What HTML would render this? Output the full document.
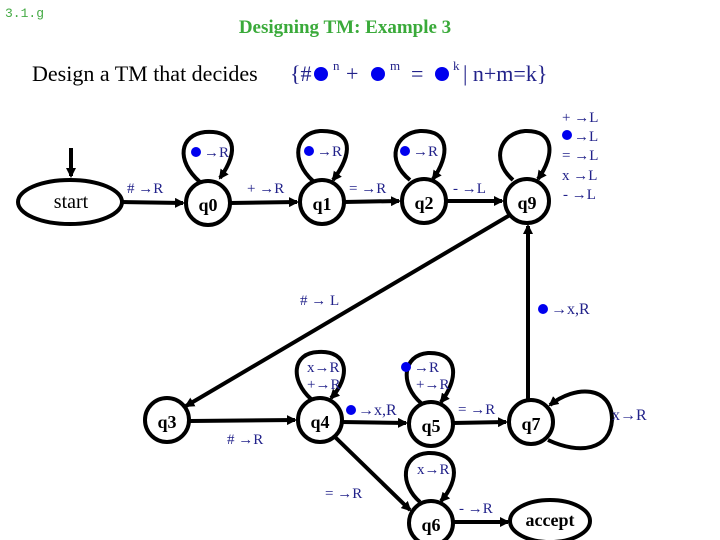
<!DOCTYPE html>
<html><head><meta charset="utf-8"><style>
html,body{margin:0;padding:0;background:#fff}
svg{display:block}
text{font-family:"Liberation Serif",serif}
.lb{fill:#22228a;font-size:15px}
.st{font-weight:bold;font-size:18px;fill:#000}
</style></head><body>
<svg width="720" height="540" viewBox="0 0 720 540" xmlns="http://www.w3.org/2000/svg">
<defs>
<marker id="a" markerWidth="10" markerHeight="10" refX="8" refY="5" orient="auto" markerUnits="userSpaceOnUse">
<path d="M0,0 L10,5 L0,10 z" fill="#000"/></marker>
</defs>
<text x="5" y="17" style="font-family:'Liberation Mono',monospace;font-size:13px;fill:#44aa44">3.1.g</text>
<text x="345" y="33" text-anchor="middle" style="font-size:19px;fill:#3aaa3a;font-weight:bold">Designing TM: Example 3</text>
<text x="32" y="81" style="font-size:22px;fill:#000">Design a TM that decides</text>
<text x="290" y="81" style="font-size:22px;fill:#22228a">{#</text>
<circle cx="321" cy="74" r="7" fill="#0000ee"/>
<text x="333" y="70" style="font-size:13px;fill:#22228a">n</text>
<text x="346" y="81" style="font-size:22px;fill:#22228a">+</text>
<circle cx="378" cy="74" r="7" fill="#0000ee"/>
<text x="390" y="70" style="font-size:13px;fill:#22228a">m</text>
<text x="411" y="81" style="font-size:22px;fill:#22228a">=</text>
<circle cx="442" cy="74" r="7" fill="#0000ee"/>
<text x="453" y="70" style="font-size:13px;fill:#22228a">k</text>
<text x="463" y="81" style="font-size:22px;fill:#22228a">|  n+m=k}</text>

<g stroke="#000" stroke-width="4" fill="none">
<line x1="71" y1="148" x2="71" y2="176" marker-end="url(#a)"/>
<ellipse cx="70" cy="202" rx="52" ry="22" fill="#fff"/>
<circle cx="208" cy="203" r="22"/>
<circle cx="322" cy="202" r="22"/>
<circle cx="424" cy="201" r="22"/>
<circle cx="527" cy="201" r="22"/>
<circle cx="167" cy="420" r="22"/>
<circle cx="320" cy="420" r="22"/>
<circle cx="431" cy="424" r="22"/>
<circle cx="531" cy="422" r="22"/>
<circle cx="431" cy="523" r="22"/>
<ellipse cx="550" cy="521" rx="40" ry="21"/>
<!-- edges -->
<line x1="122" y1="202" x2="183" y2="203" marker-end="url(#a)"/>
<line x1="230" y1="203" x2="297" y2="202" marker-end="url(#a)"/>
<line x1="344" y1="202" x2="399" y2="201" marker-end="url(#a)"/>
<line x1="446" y1="201" x2="502" y2="201" marker-end="url(#a)"/>
<line x1="510" y1="215" x2="186" y2="406" marker-end="url(#a)"/>
<line x1="528" y1="400" x2="528" y2="226" marker-end="url(#a)"/>
<line x1="190" y1="421" x2="295" y2="420" marker-end="url(#a)"/>
<line x1="342" y1="422" x2="406" y2="423" marker-end="url(#a)"/>
<line x1="453" y1="423" x2="506" y2="422" marker-end="url(#a)"/>
<line x1="335" y1="437" x2="410" y2="510" marker-end="url(#a)"/>
<line x1="453" y1="522" x2="508" y2="522" marker-end="url(#a)"/>
<!-- loops -->
<path d="M200,182 C175,160 180,135 205,132 C235,130 240,150 220,178" marker-end="url(#a)"/>
<path d="M313,181 C290,160 295,133 320,131 C355,130 352,155 333,180" marker-end="url(#a)"/>
<path d="M410,180 C385,160 395,133 420,131 C450,130 450,155 433,179" marker-end="url(#a)"/>
<path d="M513,180 C490,160 500,133 525,131 C555,130 555,155 538,179" marker-end="url(#a)"/>
<path d="M311,399 C290,380 292,353 318,352 C350,350 350,378 331,398" marker-end="url(#a)"/>
<path d="M421,403 C400,385 402,355 428,353 C460,352 458,380 441,402" marker-end="url(#a)"/>
<path d="M420,502 C400,485 400,455 428,453 C460,452 460,480 441,501" marker-end="url(#a)"/>
<path d="M548,440 C580,455 610,450 612,420 C612,385 575,385 550,405" marker-end="url(#a)"/>
</g>
<text x="71" y="208" text-anchor="middle" style="font-size:20px">start</text>
<text x="208" y="211" text-anchor="middle" class="st">q0</text>
<text x="322" y="210" text-anchor="middle" class="st">q1</text>
<text x="424" y="209" text-anchor="middle" class="st">q2</text>
<text x="527" y="209" text-anchor="middle" class="st">q9</text>
<text x="167" y="428" text-anchor="middle" class="st">q3</text>
<text x="320" y="428" text-anchor="middle" class="st">q4</text>
<text x="431" y="432" text-anchor="middle" class="st">q5</text>
<text x="531" y="430" text-anchor="middle" class="st">q7</text>
<text x="431" y="531" text-anchor="middle" class="st">q6</text>
<text x="550" y="526" text-anchor="middle" class="st">accept</text>

<g fill="#0000ee">
<circle cx="196" cy="152" r="5"/><circle cx="309" cy="151" r="5"/><circle cx="405" cy="151" r="5"/>
<circle cx="567" cy="135" r="5"/><circle cx="543" cy="309" r="5"/><circle cx="351" cy="410" r="5"/><circle cx="406" cy="367" r="5"/>
</g>
<text x="204" y="157" class="lb">→R</text>
<text x="317" y="156" class="lb">→R</text>
<text x="413" y="156" class="lb">→R</text>
<text x="127" y="193" class="lb"># →R</text>
<text x="247" y="193" class="lb">+ →R</text>
<text x="349" y="193" class="lb">= →R</text>
<text x="453" y="193" class="lb">- →L</text>
<text x="562" y="122" class="lb">+ →L</text>
<text x="574" y="141" class="lb">→L</text>
<text x="562" y="160" class="lb">= →L</text>
<text x="562" y="180" class="lb">x →L</text>
<text x="563" y="199" class="lb">- →L</text>
<text x="300" y="305" class="lb"># → L</text>
<text x="551" y="314" class="lb" style="font-size:16px">→x,R</text>
<text x="307" y="372" class="lb">x→R</text>
<text x="307" y="389" class="lb">+→R</text>
<text x="414" y="372" class="lb">→R</text>
<text x="416" y="389" class="lb">+→R</text>
<text x="358" y="415" class="lb" style="font-size:16px">→x,R</text>
<text x="227" y="444" class="lb"># →R</text>
<text x="458" y="414" class="lb">= →R</text>
<text x="612" y="420" class="lb" style="font-size:16px">x→R</text>
<text x="417" y="474" class="lb">x→R</text>
<text x="325" y="498" class="lb">= →R</text>
<text x="459" y="513" class="lb">- →R</text>
</svg>
</body></html>
